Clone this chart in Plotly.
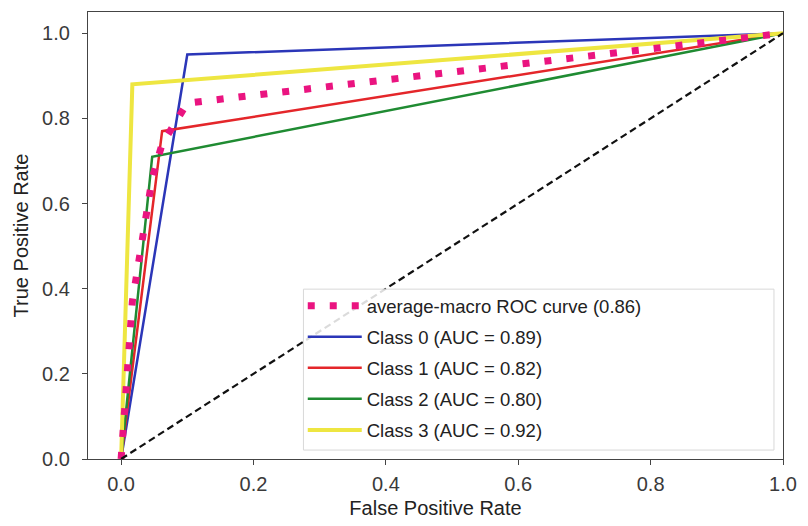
import plotly.graph_objects as go

# ROC curve points (false positive rate, true positive rate) for each class
class0_fpr = [0.0, 0.10, 1.0]
class0_tpr = [0.0, 0.95, 1.0]
class1_fpr = [0.0, 0.062, 1.0]
class1_tpr = [0.0, 0.77, 1.0]
class2_fpr = [0.0, 0.047, 1.0]
class2_tpr = [0.0, 0.71, 1.0]
class3_fpr = [0.0, 0.017, 1.0]
class3_tpr = [0.0, 0.88, 1.0]

# Macro-averaged ROC curve
macro_fpr = [0.0, 0.017, 0.047, 0.062, 0.10, 1.0]
macro_tpr = [0.0, 0.37, 0.66, 0.74, 0.836, 1.0]

# Chance diagonal
chance_x = [0.0, 1.0]
chance_y = [0.0, 1.0]

class_labels = [
    "Class 0 (AUC = 0.89)",
    "Class 1 (AUC = 0.82)",
    "Class 2 (AUC = 0.80)",
    "Class 3 (AUC = 0.92)",
]
macro_label = "average-macro ROC curve (0.86)"

x_ticks = [0.0, 0.2, 0.4, 0.6, 0.8, 1.0]
y_ticks = [0.0, 0.2, 0.4, 0.6, 0.8, 1.0]

FONT = "Liberation Sans, Arial, Helvetica, sans-serif"

class_curves = [
    (class0_fpr, class0_tpr, "#2b36b8", 2.5),
    (class1_fpr, class1_tpr, "#e4262a", 2.5),
    (class2_fpr, class2_tpr, "#1f8b32", 2.5),
    (class3_fpr, class3_tpr, "#eee641", 4.0),
]

fig = go.Figure()

for i, ((fx, ty, color, width), label) in enumerate(zip(class_curves, class_labels)):
    fig.add_trace(go.Scatter(
        x=fx, y=ty, mode="lines", name=label,
        line=dict(color=color, width=width),
        legendgroup=f"g{i + 1}", legendrank=i + 2,
    ))

fig.add_trace(go.Scatter(
    x=macro_fpr, y=macro_tpr, mode="lines", name=macro_label,
    line=dict(color="#ea1480", width=7, dash="7px,15px"),
    legendgroup="g0", legendrank=1,
))

fig.add_trace(go.Scatter(
    x=chance_x, y=chance_y, mode="lines", showlegend=False,
    line=dict(color="#111111", width=2.2, dash="7px,4px"),
))

axis_common = dict(
    showgrid=False, zeroline=False,
    showline=True, mirror=True, linecolor="#444444", linewidth=1.2,
    ticks="outside", ticklen=5, tickwidth=1.2, tickcolor="#444444",
    tickfont=dict(family=FONT, size=20, color="#3a3a3a"),
    tickformat=".1f",
)

# Wide legend frame drawn as a translucent box behind the legend entries
legend_frame = dict(
    type="rect", xref="paper", yref="paper",
    x0=0.310, x1=0.987, y0=0.020, y1=0.380,
    fillcolor="rgba(255,255,255,0.85)",
    line=dict(color="#d8d8d8", width=1),
    layer="above",
)

fig.update_layout(
    width=808, height=526,
    margin=dict(l=88, r=24, t=11, b=65),
    paper_bgcolor="white", plot_bgcolor="white",
    font=dict(family=FONT, color="#222222"),
    shapes=[legend_frame],
    xaxis=dict(
        range=[-0.05, 1.0], tickvals=x_ticks, ticklabelstandoff=2,
        title=dict(text="False Positive Rate", font=dict(family=FONT, size=20, color="#222222"), standoff=6),
        **axis_common,
    ),
    yaxis=dict(
        range=[0.0, 1.05], tickvals=y_ticks, ticklabelstandoff=8,
        title=dict(text="True Positive Rate", font=dict(family=FONT, size=20, color="#222222"), standoff=8),
        **axis_common,
    ),
    legend=dict(
        x=0.309, y=0.022, xanchor="left", yanchor="bottom",
        bgcolor="rgba(0,0,0,0)", borderwidth=0,
        font=dict(family=FONT, size=18.5, color="#222222"),
        traceorder="grouped", tracegroupgap=4, itemwidth=54,
    ),
)

fig.write_html("out.html")
